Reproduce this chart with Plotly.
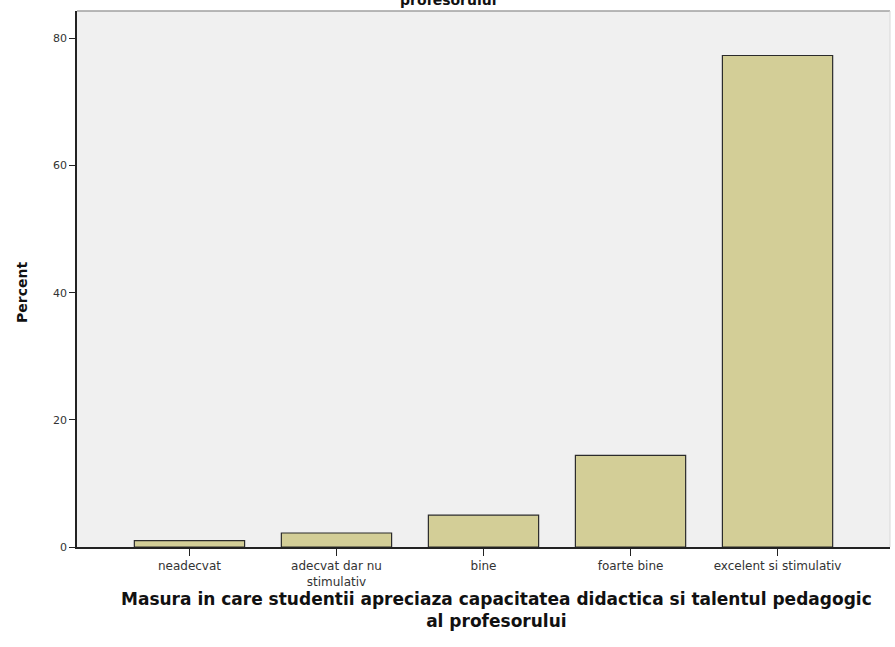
import plotly.graph_objects as go

categories = ["neadecvat", "adecvat dar nu<br>stimulativ", "bine", "foarte bine", "excelent si stimulativ"]
percent = [1.0, 2.2, 5.0, 14.4, 77.3]
y_ticks = [0, 20, 40, 60, 80]

x_title = "Masura in care studentii apreciaza capacitatea didactica si talentul pedagogic<br>al profesorului"
y_title = "Percent"
top_title = "profesorului"

FONT = "DejaVu Sans, Liberation Sans, Arial, sans-serif"

fig = go.Figure()
fig.add_trace(go.Bar(
    x=list(range(len(categories))),
    y=percent,
    marker=dict(color="rgb(211,206,151)", line=dict(color="#2b2b2b", width=1.2)),
    width=0.75,
))

PLOT_H = 647 - 11 - 100
PLOT_W = 895 - 77 - 5

def px_x(px):
    return (px - 77) / PLOT_W

def px_y(py):
    return (547 - py) / PLOT_H

fig.update_layout(
    width=895, height=647,
    margin=dict(l=77, r=5, t=11, b=100),
    paper_bgcolor="white",
    plot_bgcolor="#f0f0f0",
    showlegend=False,
    font=dict(family=FONT, size=11, color="#222"),
    xaxis=dict(
        automargin=False,
        range=[-0.765, 4.765],
        tickmode="array",
        tickvals=list(range(len(categories))),
        ticktext=categories,
        ticks="outside", ticklen=7, tickwidth=1, tickcolor="#222",
        showline=True, linecolor="#222", linewidth=1.5,
        showgrid=False, zeroline=False,
        tickfont=dict(size=12, color="#333", family=FONT),
    ),
    yaxis=dict(
        automargin=False,
        range=[0, 84.3],
        tickmode="array",
        tickvals=y_ticks,
        ticks="outside", ticklen=6, tickwidth=1, tickcolor="#222",
        showline=True, linecolor="#222", linewidth=1.5,
        showgrid=False, zeroline=False,
        tickfont=dict(size=11, color="#333", family=FONT),
    ),
    shapes=[
        dict(type="line", xref="paper", yref="paper", x0=0, x1=1, y0=1, y1=1,
             line=dict(color="#a0a0a0", width=1.5)),
        dict(type="line", xref="paper", yref="paper", x0=1, x1=1, y0=0, y1=1,
             line=dict(color="#d8d8d8", width=1)),
    ],
    annotations=[
        dict(text=top_title, xref="paper", yref="paper", x=px_x(448), y=1.0019,
             xanchor="center", yanchor="bottom", showarrow=False,
             font=dict(size=14, color="#111", family=FONT, weight="bold")),
        dict(text=x_title, xref="paper", yref="paper", x=px_x(496), y=px_y(610),
             xanchor="center", yanchor="middle", showarrow=False, align="center",
             font=dict(size=17, color="#111", family=FONT, weight="bold")),
        dict(text=y_title, xref="paper", yref="paper", x=px_x(22), y=px_y(293),
             xanchor="center", yanchor="middle", showarrow=False, textangle=-90,
             font=dict(size=14, color="#111", family=FONT, weight="bold")),
    ],
)

fig.write_html("out.html", config={"displayModeBar": False},
               post_script="document.body.style.margin='0';")
